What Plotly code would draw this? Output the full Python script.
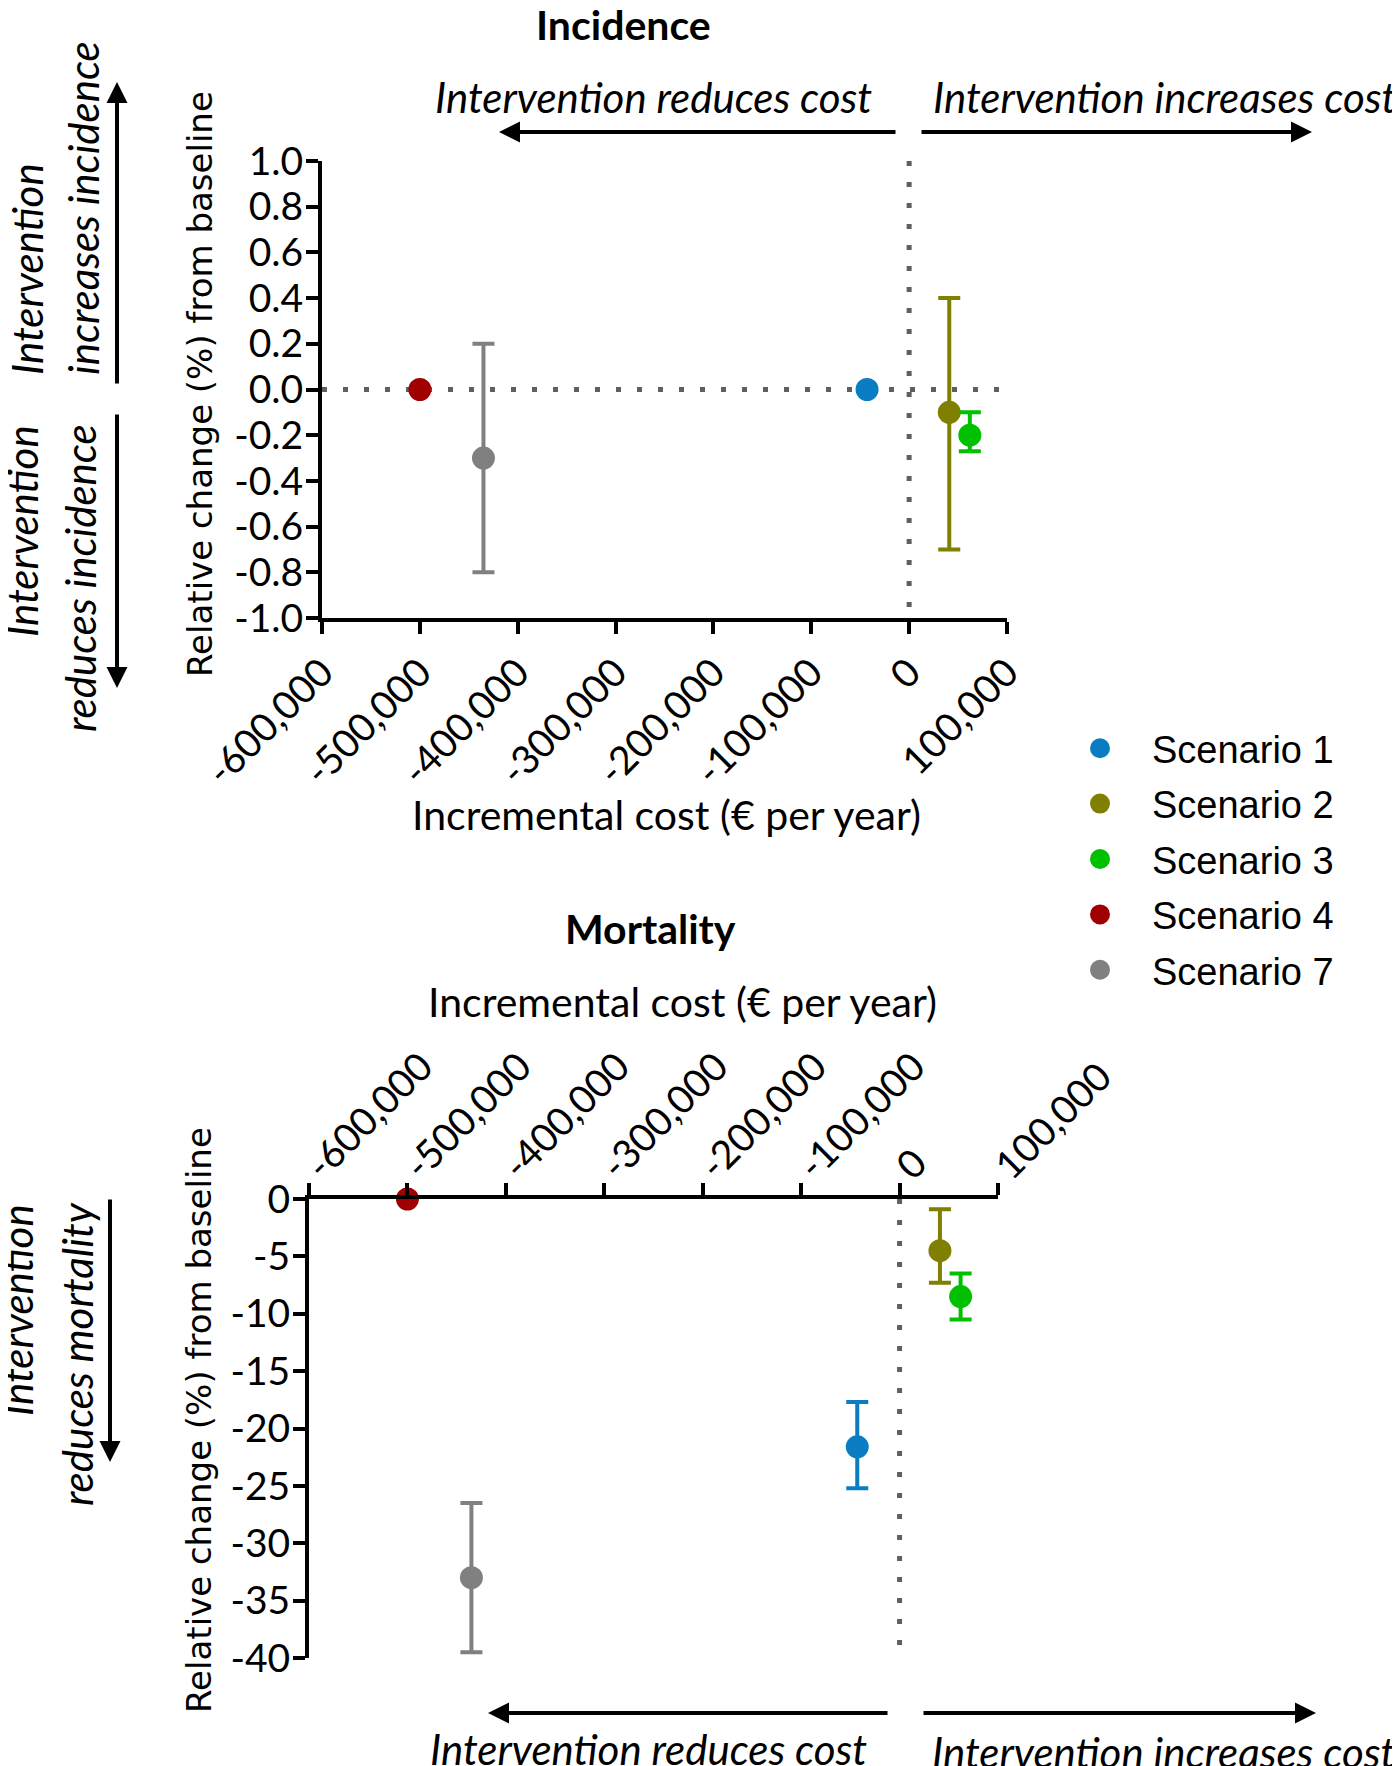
import plotly.graph_objects as go

W, H = 1400, 1766
OFF = 8  # page margin around the figure

scenarios = ["Scenario 1", "Scenario 2", "Scenario 3", "Scenario 4", "Scenario 7"]
colors = ["#0a7dc2", "#7f7f00", "#00c000", "#a00000", "#808080"]

# incremental cost (€ per year) - same for both outcomes
cost = [-43000, 41000, 62000, -500000, -435000]

# incidence: relative change (%) from baseline, with range
inc_change = [0.0, -0.1, -0.2, 0.0, -0.3]
inc_upper = [None, 0.4, -0.1, None, 0.2]
inc_lower = [None, -0.7, -0.27, None, -0.8]

# mortality: relative change (%) from baseline, with range
mort_change = [-21.6, -4.5, -8.5, 0.0, -33.0]
mort_upper = [-17.7, -0.9, -6.5, None, -26.5]
mort_lower = [-25.2, -7.3, -10.5, None, -39.5]

cost_ticks = [-600000, -500000, -400000, -300000, -200000, -100000, 0, 100000]
cost_labels = ["-600,000", "-500,000", "-400,000", "-300,000", "-200,000", "-100,000", "0", "100,000"]
inc_ticks = [1.0, 0.8, 0.6, 0.4, 0.2, 0.0, -0.2, -0.4, -0.6, -0.8, -1.0]
inc_labels = ["1.0", "0.8", "0.6", "0.4", "0.2", "0.0", "-0.2", "-0.4", "-0.6", "-0.8", "-1.0"]
mort_ticks = [0, -5, -10, -15, -20, -25, -30, -35, -40]
mort_labels = ["0", "-5", "-10", "-15", "-20", "-25", "-30", "-35", "-40"]

TXT = "Lato, sans-serif"
YT = "DejaVu Sans, sans-serif"
LEG = "Liberation Sans, Arial, sans-serif"


def px(x):
    return (x - OFF) / W


def py(y):
    return 1 - (y - OFF) / H


def err(center, hi, lo, color):
    if hi is None:
        return dict(visible=False)
    return dict(type="data", symmetric=False, array=[hi - center],
                arrayminus=[center - lo], color=color, thickness=4, width=11)


fig = go.Figure()

# marker outline in the same colour keeps the legend dots from looking tiny
for i, name in enumerate(scenarios):
    mk = dict(color=colors[i], size=19, line=dict(color=colors[i], width=4))
    fig.add_trace(go.Scatter(
        x=[cost[i]], y=[inc_change[i]], mode="markers", name=name,
        legendgroup=name, marker=mk,
        error_y=err(inc_change[i], inc_upper[i], inc_lower[i], colors[i]),
        cliponaxis=False, xaxis="x", yaxis="y"))
    fig.add_trace(go.Scatter(
        x=[cost[i]], y=[mort_change[i]], mode="markers", name=name,
        legendgroup=name, showlegend=False, marker=mk,
        error_y=err(mort_change[i], mort_upper[i], mort_lower[i], colors[i]),
        cliponaxis=False, xaxis="x2", yaxis="y2"))

axis_style = dict(showline=True, linewidth=4, linecolor="black", showgrid=False,
                  zeroline=False, ticks="outside", ticklen=12, tickwidth=4, automargin=False,
                  tickcolor="black", tickfont=dict(family=TXT, size=39, color="black"))

dot = dict(color="#5f5f5f", width=5, dash="5px,16px")
shapes = [
    dict(type="line", xref="x", yref="y", x0=cost_ticks[0], x1=cost_ticks[-1], y0=0, y1=0,
         line=dot, layer="below"),
    dict(type="line", xref="x", yref="y", x0=0, x1=0, y0=inc_ticks[0], y1=inc_ticks[-1],
         line=dot, layer="below"),
    dict(type="line", xref="x2", yref="y2", x0=0, x1=0, y0=mort_ticks[0], y1=mort_ticks[-1],
         line=dot, layer="below"),
]

annotations = []


def label(text, x, y, size=42, family=TXT, italic=False, bold=False, angle=0,
          xanchor="center", yanchor="middle"):
    if italic:
        text = "<i>" + text + "</i>"
    if bold:
        text = "<b>" + text + "</b>"
    annotations.append(dict(text=text, x=px(x), y=py(y), xref="paper", yref="paper",
                            showarrow=False, textangle=angle, xanchor=xanchor,
                            yanchor=yanchor, font=dict(family=family, size=size, color="black")))


def arrow(tail, tip):
    annotations.append(dict(text="", x=px(tip[0]), y=py(tip[1]), xref="paper", yref="paper",
                            ax=tail[0] - tip[0], ay=tail[1] - tip[1], showarrow=True,
                            arrowhead=2, arrowsize=1.05, arrowwidth=4, arrowcolor="black"))


# titles
label("Incidence", 623, 24, size=41, bold=True)
label("Mortality", 650, 928, size=41, bold=True)

# cost direction
label("Intervention reduces cost", 653, 97, italic=True)
label("Intervention increases cost", 1164, 97, italic=True)
arrow((897, 132), (499, 132))
arrow((920, 132), (1312, 132))
label("Intervention reduces cost", 648, 1749, italic=True)
label("Intervention increases cost", 1163, 1752, italic=True)
arrow((889, 1713), (488, 1713))
arrow((922, 1713), (1316, 1713))

# outcome direction
label("Intervention", 27, 377, italic=True, angle=-90, yanchor="bottom")
label("increases incidence", 83, 377, italic=True, angle=-90, yanchor="bottom")
arrow((117, 385), (117, 82))
label("Intervention", 22, 423, italic=True, angle=-90, yanchor="top")
label("reduces incidence", 80, 422, italic=True, angle=-90, yanchor="top")
arrow((117, 413), (117, 688))
label("Intervention", 17, 1202, italic=True, angle=-90, yanchor="top")
label("reduces mortality", 77, 1200, italic=True, angle=-90, yanchor="top")
arrow((110, 1198), (110, 1462))

# axis titles
label("Incremental cost (€ per year)", 666, 814, size=41)
label("Incremental cost (€ per year)", 682, 1001, size=41)
label("Relative change (%) from baseline", 200, 384, size=34, family=YT, angle=-90)
label("Relative change (%) from baseline", 199, 1420, size=34, family=YT, angle=-90)

fig.update_layout(
    width=W, height=H, autosize=False,
    margin=dict(l=0, r=0, t=0, b=0, autoexpand=False),
    paper_bgcolor="white", plot_bgcolor="white",
    xaxis=dict(axis_style, domain=[px(322), px(1007)], range=[cost_ticks[0], cost_ticks[-1]],
               tickvals=cost_ticks, ticktext=cost_labels, tickangle=-45, anchor="y"),
    yaxis=dict(axis_style, domain=[py(618), py(161)], range=[inc_ticks[-1], inc_ticks[0]],
               tickvals=inc_ticks, ticktext=inc_labels, anchor="x", ticklabelstandoff=-5),
    xaxis2=dict(axis_style, domain=[px(309), px(998)], range=[cost_ticks[0], cost_ticks[-1]],
                tickvals=cost_ticks, ticktext=cost_labels, tickangle=-45, side="top",
                anchor="y2", ticklabelstandoff=-20),
    yaxis2=dict(axis_style, domain=[py(1658), py(1199)], range=[mort_ticks[-1], mort_ticks[0]],
                tickvals=mort_ticks, ticktext=mort_labels, anchor="x2", ticklabelstandoff=-5),
    showlegend=True,
    legend=dict(x=px(1048), y=py(717), xanchor="left", yanchor="top",
                font=dict(family=LEG, size=38, color="black"),
                itemwidth=94, tracegroupgap=3, bgcolor="rgba(0,0,0,0)"),
    shapes=shapes,
    annotations=annotations,
)

fig.write_html("out.html")
